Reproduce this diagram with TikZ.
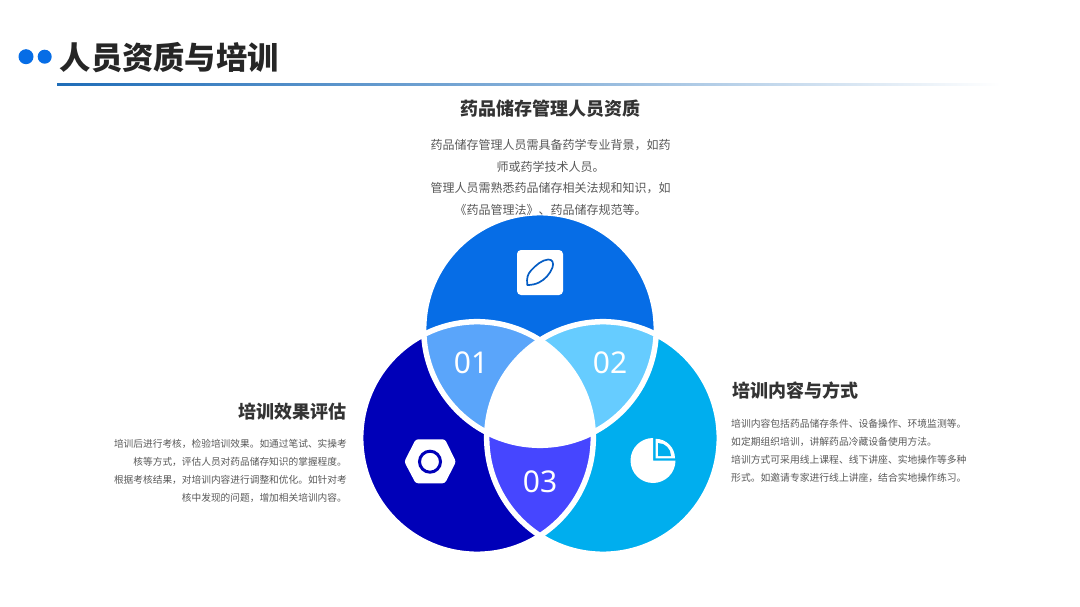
\documentclass[tikz,border=0pt]{standalone}
\usepackage{fontspec}
\setmainfont{Noto Sans CJK SC}
\newfontfamily\latinnum{Noto Sans}
\usetikzlibrary{calc}
\definecolor{cTop}{HTML}{066DE6}
\definecolor{cLeft}{HTML}{0000B8}
\definecolor{cRight}{HTML}{00AEEE}
\definecolor{cOne}{HTML}{5AA5FA}
\definecolor{cTwo}{HTML}{66CCFF}
\definecolor{cThree}{HTML}{4646FF}
\definecolor{cTitle}{HTML}{262626}
\definecolor{cHead}{HTML}{333333}
\definecolor{cBody}{HTML}{595959}
\definecolor{cLine}{HTML}{1F6DB8}
\tikzset{
  titletext/.style={font=\fontsize{31.3}{36}\selectfont\bfseries,text=cTitle,inner sep=0pt},
  headtext/.style={font=\fontsize{18}{22}\selectfont\bfseries,text=cHead,inner sep=0pt},
  toptext/.style={font=\fontsize{12}{21.7}\selectfont,text=cBody,inner sep=0pt,align=center},
  sidetext/.style={font=\fontsize{9.8}{18}\selectfont,text=cBody,inner sep=0pt},
  sidetextleft/.style={font=\fontsize{9.7}{18}\selectfont,text=cBody,inner sep=0pt},
  numtext/.style={font=\fontsize{30}{34}\latinnum\selectfont,text=white,inner sep=0pt},
  ringline/.style={draw=white,line width=5.5pt}
}
\begin{document}
\begin{tikzpicture}[x=1pt,y=-1pt]
\useasboundingbox (0,0) rectangle (1080,607);
\fill[white] (0,0) rectangle (1080,607);
% coordinates
\coordinate (ct) at (540,329);
\coordinate (cl) at (477,438);
\coordinate (cr) at (603,438);
\def\rr{116.3pt}
% header
\fill[cTop] (26,56.7) circle (7.5pt);
\fill[cTop] (44.7,56.7) circle (7pt);
\node[titletext,anchor=west] (title) at (59.5,58) {人员资质与培训};
\shade[left color=cLine,right color=white,middle color=cLine!55] (57,84) rectangle (1000,86);
% circles
\fill[cTop] (ct) circle (\rr);
\fill[cLeft] (cl) circle (\rr);
\fill[cRight] (cr) circle (\rr);
% lenses
\begin{scope}\clip (ct) circle (\rr); \fill[cOne] (cl) circle (\rr); \end{scope}
\begin{scope}\clip (ct) circle (\rr); \fill[cTwo] (cr) circle (\rr); \end{scope}
\begin{scope}\clip (cl) circle (\rr); \fill[cThree] (cr) circle (\rr); \end{scope}
\begin{scope}\clip (ct) circle (\rr); \clip (cl) circle (\rr); \fill[white] (cr) circle (\rr); \end{scope}
% white rings
\draw[ringline] (ct) circle (\rr);
\draw[ringline] (cl) circle (\rr);
\draw[ringline] (cr) circle (\rr);
% numbers
\node[numtext] (n1) at (471,363) {01};
\node[numtext] (n2) at (610,363) {02};
\node[numtext] (n3) at (540,482) {03};
% leaf icon
\fill[white,rounded corners=4pt] (517,250) rectangle (563,295);
\draw[cTop!85!black,line width=1.7pt,line join=round] (527.3,285)
  .. controls (526.5,278) and (527.5,274.5) .. (531,270.5)
  .. controls (536,265) and (542,260) .. (548,259.5)
  .. controls (552.5,259.2) and (554,263) .. (552.5,267.5)
  .. controls (550,274) and (545,279.5) .. (539,282.5)
  .. controls (535,284.5) and (531,285) .. cycle;
% nut icon
\fill[white,rounded corners=2.5pt] (404.3,461.7) -- (415.7,439.3) -- (445,439.3) -- (456,461.7) -- (445,483.3) -- (415.7,483.3) -- cycle;
\draw[cLeft,line width=3pt] (430,461.7) circle (10.5pt);
% pie icon
\fill[white] (653,460.5) -- (653,438) arc[start angle=90,end angle=360,radius=22.5pt] -- cycle;
\fill[white] (655.5,458.3) -- (655.5,438.8) arc[start angle=90,end angle=0,radius=19.5pt] -- cycle;
\fill[cRight] (658,456) -- (658,443) arc[start angle=90,end angle=0,radius=13pt] -- cycle;
% top text
\node[headtext] (h1) at (550.5,109) {药品储存管理人员资质};
\node[toptext] (b1) at (550.5,177.5) {药品储存管理人员需具备药学专业背景，如药\\师或药学技术人员。\\管理人员需熟悉药品储存相关法规和知识，如\\《药品管理法》、药品储存规范等。};
% right text
\node[headtext,anchor=west] (h2) at (732,390.5) {培训内容与方式};
\node[sidetext,align=left,anchor=west] (b2) at (731,451) {培训内容包括药品储存条件、设备操作、环境监测等。\\如定期组织培训，讲解药品冷藏设备使用方法。\\培训方式可采用线上课程、线下讲座、实地操作等多种\\形式。如邀请专家进行线上讲座，结合实地操作练习。};
% left text
\node[headtext,anchor=east] (h3) at (347,412) {培训效果评估};
\node[sidetextleft,align=right,anchor=east] (b3) at (347,471) {培训后进行考核，检验培训效果。如通过笔试、实操考\\核等方式，评估人员对药品储存知识的掌握程度。\\根据考核结果，对培训内容进行调整和优化。如针对考\\核中发现的问题，增加相关培训内容。};
\end{tikzpicture}
\end{document}
